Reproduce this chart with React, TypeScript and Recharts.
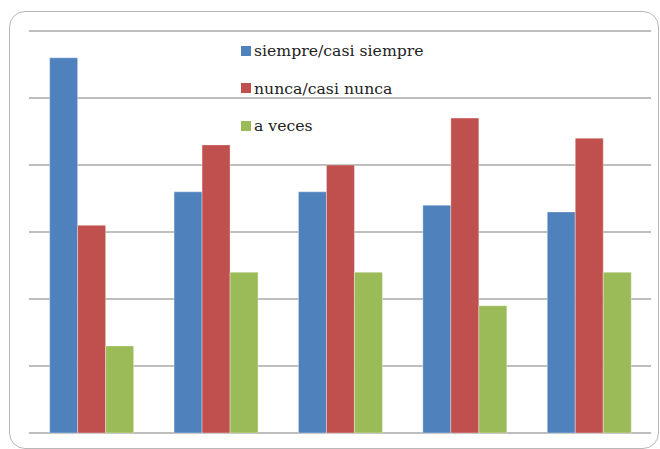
import * as React from "react"
import { BarChart, Bar, XAxis, YAxis, CartesianGrid } from "recharts"

const categories = ["1", "2", "3", "4", "5"]
const siempre = [56, 36, 36, 34, 33]
const nunca = [31, 43, 40, 47, 44]
const aVeces = [13, 24, 24, 19, 24]
const yTicks = [0, 10, 20, 30, 40, 50, 60]

const seriesNames = ["siempre/casi siempre", "nunca/casi nunca", "a veces"]
const colors = ["#4F81BD", "#C0504D", "#9BBB59"]

const data = categories.map((name, i) => ({
  name,
  s0: siempre[i],
  s1: nunca[i],
  s2: aVeces[i],
}))

// legend sits over the plot, so it is drawn outside recharts' layout
const LegendBox = () => (
  <div
    style={{
      position: "absolute",
      left: 241,
      top: 32,
      fontFamily: "'DejaVu Serif', serif",
      fontSize: 15.7,
      color: "#222",
    }}
  >
    {seriesNames.map((n, i) => (
      <div key={n} style={{ display: "flex", alignItems: "center", height: 37.5, whiteSpace: "nowrap" }}>
        <span style={{ width: 10, height: 10, background: colors[i], marginRight: 3, display: "inline-block" }} />
        <span>{n}</span>
      </div>
    ))}
  </div>
)

export default function App() {
  return (
    <div style={{ position: "absolute", left: 0, top: 0, width: 660, height: 449, background: "#fff", overflow: "hidden" }}>
      <div
        style={{
          position: "absolute",
          left: 9,
          top: 11,
          width: 648,
          height: 436,
          border: "1px solid #b8b8b8",
          borderRadius: 16,
        }}
      />
      <div style={{ position: "absolute", left: 0, top: 0 }}>
        <BarChart
          width={660}
          height={449}
          data={data}
          margin={{ top: 31, right: 9, bottom: 16, left: 29 }}
          barGap={0}
          barCategoryGap="16.6%"
        >
          <CartesianGrid vertical={false} stroke="#a8a8a8" strokeWidth={1.3} />
          <XAxis dataKey="name" hide />
          <YAxis hide domain={[0, 60]} ticks={yTicks} />
          {["s0", "s1", "s2"].map((k, i) => (
            <Bar
              key={k}
              dataKey={k}
              name={seriesNames[i]}
              fill={colors[i]}
              stroke="#ffffff"
              strokeOpacity={0.35}
              isAnimationActive={false}
            />
          ))}
        </BarChart>
      </div>
      <LegendBox />
    </div>
  )
}
